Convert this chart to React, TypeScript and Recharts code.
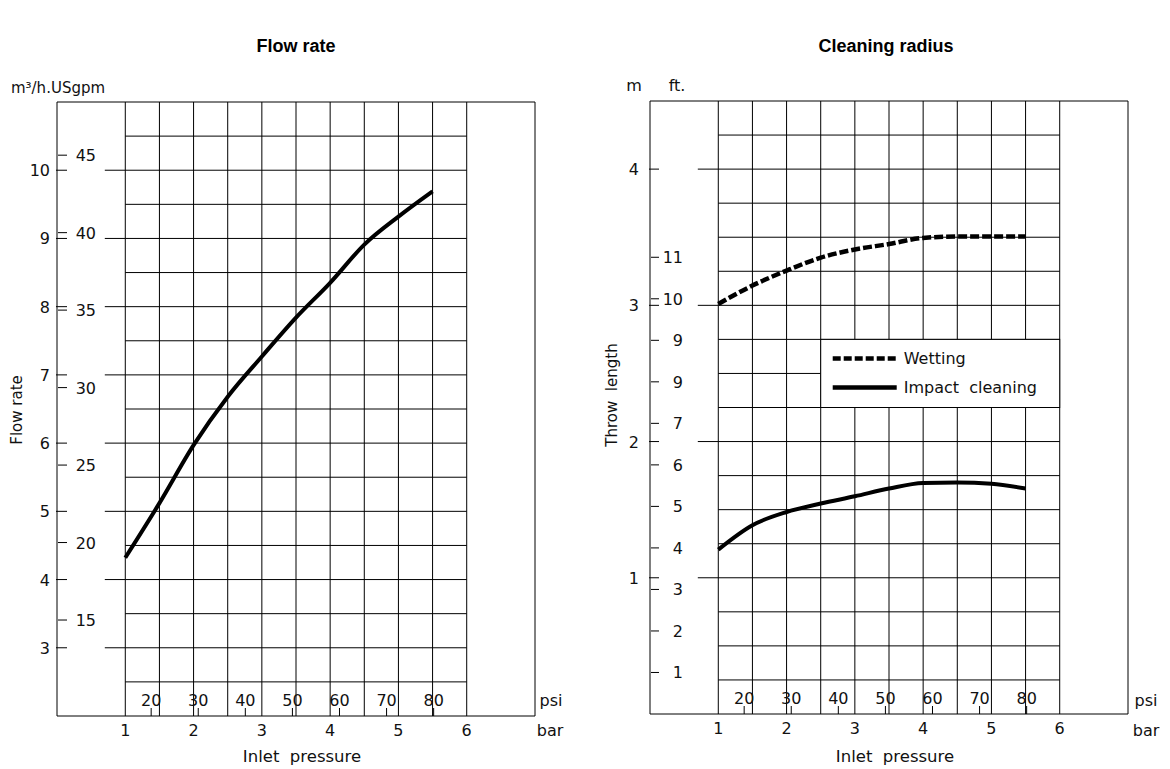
import { LineChart, Line, XAxis, YAxis, ReferenceLine, ReferenceArea, ReferenceDot } from 'recharts';

// unit conversions for the secondary scales
const PSI_PER_BAR = 14.5038;
const GPM_PER_M3H = 4.40287;
const FT_PER_M = 3.28084;

// shared x axis (inlet pressure)
const barTicks = [1, 2, 3, 4, 5, 6];
const psiTicks = [20, 30, 40, 50, 60, 70, 80];
const gridBar = [1, 1.5, 2, 2.5, 3, 3.5, 4, 4.5, 5, 5.5, 6];

// Flow rate chart
const flowPressure = [1, 1.5, 2, 2.5, 3, 3.5, 4, 4.5, 5, 5.5];
const flowRate = [4.32, 5.12, 5.97, 6.68, 7.27, 7.84, 8.35, 8.91, 9.32, 9.69];
const flowTicks = [3, 4, 5, 6, 7, 8, 9, 10];
const gpmTicks = [15, 20, 25, 30, 35, 40, 45];
const flowGrid = [2.5, 3, 3.5, 4, 4.5, 5, 5.5, 6, 6.5, 7, 7.5, 8, 8.5, 9, 9.5, 10, 10.5];

// Cleaning radius chart
const radiusPressure = [1, 1.5, 2, 2.5, 3, 3.5, 4, 4.5, 5, 5.5];
const wetting = [3.01, 3.145, 3.255, 3.35, 3.41, 3.45, 3.495, 3.505, 3.505, 3.505];
const impactCleaning = [1.207, 1.386, 1.483, 1.545, 1.598, 1.655, 1.696, 1.7, 1.69, 1.655];
const meterTicks = [1, 2, 3, 4];
const ftTicks = [1, 2, 3, 4, 5, 6, 7, 8, 9, 10, 11];
const ftLabels = ['1', '2', '3', '4', '5', '6', '7', '9', '9', '10', '11'];
const radiusGrid = [0.25, 0.5, 0.75, 1, 1.25, 1.5, 1.75, 2, 2.25, 2.5, 2.75, 3, 3.25, 3.5, 3.75, 4, 4.25];

const FONT = '"DejaVu Sans", sans-serif';
const INK = '#111';
const txt = { fontFamily: FONT, fontSize: 16, fill: INK };

// axes are 1px wide/tall (zero-sized axes are not drawn)
const BarTick = ({ x, y, payload }: any) => (
  <text x={x} y={y + 20} textAnchor="middle" {...txt}>{payload.value}</text>
);

// psi marks sit on the bar axis, drawn from a dot at the bottom edge
const psiMark = (psi: number) => ({ cx, cy }: any) => (
  <g>
    <line x1={cx} x2={cx} y1={cy} y2={cy - 8} stroke="#000" />
    <text x={cx} y={cy - 10} textAnchor="middle" {...txt}>{psi}</text>
  </g>
);

const OuterTick = (gap: number, len: number) => ({ x, y, payload }: any) => (
  <g>
    <line x1={x} x2={x + len} y1={y} y2={y} stroke="#000" />
    <text x={x - gap} y={y + 6} textAnchor="end" {...txt}>{payload.value}</text>
  </g>
);

const InnerTick = (right: number, len: number, labels?: string[], values?: number[]) => ({ x, y, payload }: any) => (
  <g>
    <line x1={x + 1} x2={x + 1 + len} y1={y} y2={y} stroke="#000" />
    <text x={x + 1 + right} y={y + 6} textAnchor="end" {...txt}>
      {labels && values ? labels[values.indexOf(payload.value)] : payload.value}
    </text>
  </g>
);

const LegendBox = ({ x, y, width, height }: any) => (
  <g>
    <rect x={x} y={y} width={width} height={height} fill="#fff" stroke="#000" />
    <line x1={x + 12} x2={x + 76} y1={y + 19} y2={y + 19} stroke="#000" strokeWidth={4.5} strokeDasharray="8 3" />
    <text x={x + 83} y={y + 25} {...txt}>Wetting</text>
    <line x1={x + 12} x2={x + 76} y1={y + 48} y2={y + 48} stroke="#000" strokeWidth={4.5} />
    <text x={x + 83} y={y + 54} {...txt} style={{ whiteSpace: 'pre' }}>Impact  cleaning</text>
  </g>
);

const axisCommon = {
  tickSize: 0,
  tickMargin: 0,
  axisLine: false,
  tickLine: false,
  interval: 0 as const,
  allowDataOverflow: true,
};

function FlowRateChart() {
  const data = flowPressure.map((p, i) => ({ p, q: flowRate[i] }));
  return (
    <LineChart width={585} height={769} data={data} margin={{ top: 102, left: 55, right: 50, bottom: 52 }}>
      <XAxis xAxisId="bar" dataKey="p" type="number" domain={[0, 7]} ticks={barTicks} height={1} tick={BarTick} {...axisCommon} />
      <YAxis yAxisId="q" type="number" domain={[2, 11]} ticks={flowTicks} width={1} tick={OuterTick(6, 11)} {...axisCommon} />
      <YAxis yAxisId="gpm" type="number" domain={[2 * GPM_PER_M3H, 11 * GPM_PER_M3H]} ticks={gpmTicks} width={1} tick={InnerTick(38, 9)} {...axisCommon} />
      {gridBar.map((b) => (
        <ReferenceLine key={'v' + b} xAxisId="bar" yAxisId="q" segment={[{ x: b, y: 2 }, { x: b, y: 11 }]} stroke="#000" />
      ))}
      {flowGrid.map((v) => (
        <ReferenceLine key={'h' + v} xAxisId="bar" yAxisId="q" segment={[{ x: 1, y: v }, { x: 6, y: v }]} stroke="#000" />
      ))}
      {flowTicks.map((v) => (
        <ReferenceLine key={'e' + v} xAxisId="bar" yAxisId="q" segment={[{ x: 0.7, y: v }, { x: 1, y: v }]} stroke="#000" />
      ))}
      {psiTicks.map((psi) => (
        <ReferenceDot key={'psi' + psi} xAxisId="bar" yAxisId="q" x={psi / PSI_PER_BAR} y={2} r={0} shape={psiMark(psi)} ifOverflow="visible" />
      ))}
      <ReferenceArea xAxisId="bar" yAxisId="q" x1={0} x2={7} y1={2} y2={11} fill="none" stroke="#000" />
      <Line xAxisId="bar" yAxisId="q" type="monotone" dataKey="q" stroke="#000" strokeWidth={4} dot={false} isAnimationActive={false} />
    </LineChart>
  );
}

function RadiusChart() {
  const data = radiusPressure.map((p, i) => ({ p, wet: wetting[i], imp: impactCleaning[i] }));
  return (
    <LineChart width={585} height={769} data={data} margin={{ top: 101, left: 63, right: 42, bottom: 54 }}>
      <XAxis xAxisId="bar" dataKey="p" type="number" domain={[0, 7]} ticks={barTicks} height={1} tick={BarTick} {...axisCommon} />
      <YAxis yAxisId="m" type="number" domain={[0, 4.5]} ticks={meterTicks} width={1} tick={OuterTick(10, 10)} {...axisCommon} />
      <YAxis yAxisId="ft" type="number" domain={[0, 4.5 * FT_PER_M]} ticks={ftTicks} width={1} tick={InnerTick(32, 8, ftLabels, ftTicks)} {...axisCommon} />
      {gridBar.map((b) => (
        <ReferenceLine key={'v' + b} xAxisId="bar" yAxisId="m" segment={[{ x: b, y: 0 }, { x: b, y: 4.5 }]} stroke="#000" />
      ))}
      {radiusGrid.map((v) => (
        <ReferenceLine key={'h' + v} xAxisId="bar" yAxisId="m" segment={[{ x: 1, y: v }, { x: 6, y: v }]} stroke="#000" />
      ))}
      {meterTicks.map((v) => (
        <ReferenceLine key={'e' + v} xAxisId="bar" yAxisId="m" segment={[{ x: 0.7, y: v }, { x: 1, y: v }]} stroke="#000" />
      ))}
      {psiTicks.map((psi) => (
        <ReferenceDot key={'psi' + psi} xAxisId="bar" yAxisId="m" x={psi / PSI_PER_BAR} y={0} r={0} shape={psiMark(psi)} ifOverflow="visible" />
      ))}
      <ReferenceArea xAxisId="bar" yAxisId="m" x1={0} x2={7} y1={0} y2={4.5} fill="none" stroke="#000" />
      <ReferenceArea xAxisId="bar" yAxisId="m" x1={2.5} x2={6} y1={2.25} y2={2.75} shape={LegendBox} zIndex={1000} />
      <Line xAxisId="bar" yAxisId="m" type="monotone" dataKey="wet" stroke="#000" strokeWidth={4.5} strokeDasharray="9 3" dot={false} isAnimationActive={false} />
      <Line xAxisId="bar" yAxisId="m" type="monotone" dataKey="imp" stroke="#000" strokeWidth={4} dot={false} isAnimationActive={false} />
    </LineChart>
  );
}

const label = (x: number, y: number, text: string, extra: any = {}) => (
  <div style={{ position: 'absolute', left: x, top: y, transform: 'translate(-50%, -50%)', whiteSpace: 'pre', fontFamily: FONT, fontSize: 15, color: INK, lineHeight: 1, ...extra }}>
    {text}
  </div>
);

export default function App() {
  return (
    <div style={{ position: 'absolute', left: 0, top: 0, width: 1170, height: 769, background: '#fff', overflow: 'hidden' }}>
      <div style={{ position: 'absolute', left: 0, top: 0 }}>
        <FlowRateChart />
      </div>
      <div style={{ position: 'absolute', left: 585, top: 0 }}>
        <RadiusChart />
      </div>
      {label(296, 46, 'Flow rate', { fontFamily: '"Liberation Sans", Arial, sans-serif', fontWeight: 'bold', fontSize: 18, color: '#000' })}
      {label(886, 46, 'Cleaning radius', { fontFamily: '"Liberation Sans", Arial, sans-serif', fontWeight: 'bold', fontSize: 18, color: '#000' })}
      {label(58, 88, 'm³/h.USgpm')}
      {label(17, 410, 'Flow rate', { transform: 'translate(-50%, -50%) rotate(-90deg)' })}
      {label(551, 701, 'psi', { fontSize: 16 })}
      {label(550, 731, 'bar', { fontSize: 16 })}
      {label(302, 757, 'Inlet  pressure', { fontSize: 16.5 })}
      {label(634, 86, 'm', { fontSize: 16 })}
      {label(677, 86, 'ft.', { fontSize: 16 })}
      {label(612, 395, 'Throw  length', { transform: 'translate(-50%, -50%) rotate(-90deg)' })}
      {label(1146, 701, 'psi', { fontSize: 16 })}
      {label(1146, 731, 'bar', { fontSize: 16 })}
      {label(895, 757, 'Inlet  pressure', { fontSize: 16.5 })}
    </div>
  );
}
